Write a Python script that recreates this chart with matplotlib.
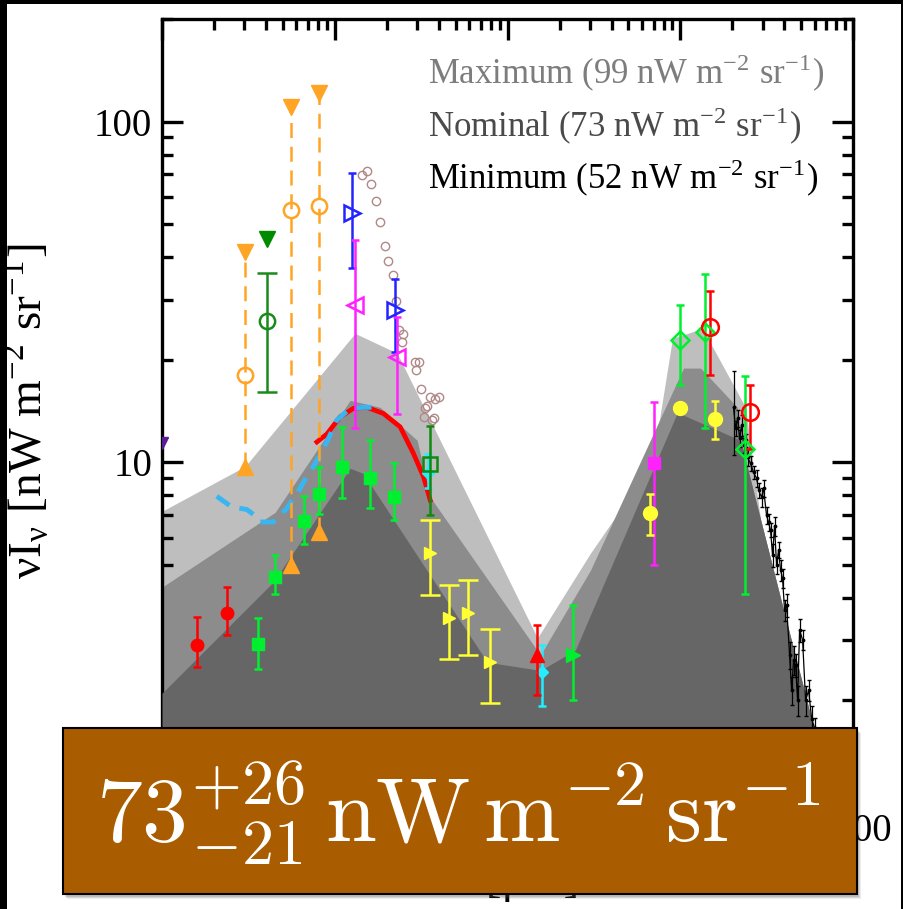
import numpy as np
import matplotlib.pyplot as plt
from matplotlib.patches import Rectangle
from matplotlib.ticker import LogLocator, FixedLocator, FixedFormatter, NullFormatter

plt.rcParams['font.family'] = ['Liberation Serif', 'DejaVu Serif']
plt.rcParams['mathtext.fontset'] = 'stix'

# ---- shaded model envelopes (wavelength [um], nuI_nu [nW m^-2 sr^-1])
max_lam = [0.1, 0.303, 1.31, 2.30, 14.9, 30.2, 69.0, 90.1, 134.5, 238.6, 262, 291.5, 380.7, 497, 591, 762, 1000]
max_val = [7.18, 9.73, 23.9, 20.9, 3.05, 5.41, 9.93, 23.1, 24.7, 14.5, 10.1, 6.80, 3.99, 2.36, 1.67, 1.0, 0.4]

nom_lam = [0.1, 0.452, 1.228, 1.83, 3.00, 3.57, 15.5, 30.2, 104.4, 131, 214, 223.4, 291.5, 380.7, 497, 591, 762, 1000]
nom_val = [4.30, 7.13, 15.2, 14.5, 11.6, 7.9, 2.72, 4.82, 18.9, 18.9, 14.5, 11.6, 6.80, 3.99, 2.36, 1.67, 1.0, 0.4]

min_lam = [0.1, 0.440, 1.228, 1.46, 7.64, 15.5, 24.7, 96.3, 223.4, 291.5, 380.7, 497, 591, 762, 1000]
min_val = [2.10, 4.45, 9.60, 9.28, 2.59, 2.45, 2.81, 14.0, 11.6, 6.80, 3.99, 2.36, 1.67, 1.0, 0.4]

# ---- measurements
red_lam = [0.160, 0.237]
red_val = [2.91, 3.60]
red_lo = [2.50, 3.11]
red_hi = [3.51, 4.31]

grn_lam = [0.361, 0.452, 0.668, 0.815, 1.10, 1.60, 2.19]
grn_val = [2.92, 4.61, 6.71, 8.06, 9.69, 9.02, 7.91]
grn_lo = [2.48, 4.12, 5.75, 7.04, 7.83, 7.36, 6.76]
grn_hi = [3.50, 5.36, 7.95, 9.69, 12.7, 11.6, 9.95]

org_lam = [0.303, 0.557, 0.815]
org_val = [18.0, 55.1, 56.7]
org_lo = [9.69, 4.99, 6.25]
org_hi = [41.4, 110, 121]

dgr_lim_lam = [0.404]
dgr_lim_val = [45.3]
dgr_lam = [0.404]
dgr_val = [25.9]
dgr_lo = [16.1]
dgr_hi = [35.9]
dgr_sq_lam = [3.57]
dgr_sq_val = [9.91]
dgr_sq_lo = [6.99]
dgr_sq_hi = [12.8]

blu_lam = [1.26, 2.24]
blu_val = [54.0, 27.9]
blu_lo = [37.2, 21.1]
blu_hi = [70.5, 34.4]

mag_lam = [1.31, 2.29]
mag_val = [28.9, 20.4]
mag_lo = [12.6, 13.9]
mag_hi = [45.0, 26.7]

mag_sq_lam = [70.9]
mag_sq_val = [9.95]
mag_sq_lo = [4.99]
mag_sq_hi = [15.0]

brn_lam = [1.436, 1.535, 1.625, 1.730, 1.832, 1.941, 2.031, 2.160, 2.259, 2.339, 2.50, 2.448,
           2.923, 3.055, 2.963, 3.167, 3.570, 3.817, 3.99, 3.417, 3.34, 3.266, 3.731, 3.653]
brn_val = [69.8, 71.5, 65.7, 58.4, 50.7, 43.1, 39.1, 35.4, 29.7, 24.4, 23.8, 22.5,
           19.7, 19.7, 18.6, 16.4, 15.5, 15.3, 15.5, 14.6, 14.4, 13.6, 13.5, 13.3]

redc_lam = [0.788, 0.900, 1.075, 1.283, 1.535, 1.915, 2.392, 2.858, 3.266, 3.57]
redc_val = [11.47, 12.1, 13.6, 14.4, 14.5, 13.9, 12.7, 10.6, 9.06, 7.74]

cyc_lam = [0.2074, 0.2534, 0.3095, 0.3538, 0.3697, 0.4414, 0.528, 0.603, 0.689, 0.788,
           0.900, 1.028, 1.228, 1.467, 1.832]
cyc_val = [7.95, 7.39, 7.27, 6.91, 6.68, 6.68, 7.32, 8.09, 9.06, 10.1,
           11.47, 13.3, 14.4, 14.5, 14.5]

yel_lam = [3.57, 4.56, 5.87, 7.95]
yel_val = [5.40, 3.48, 3.60, 2.60]
yel_lo = [4.07, 2.64, 2.72, 1.96]
yel_hi = [6.79, 4.36, 4.51, 3.25]

yelc_lam = [67.2, 99.3, 158.5]
yelc_val = [7.12, 14.4, 13.4]
yelc_lo = [6.11, 14.4, 11.7]
yelc_hi = [8.09, 14.4, 15.1]

redt_lam = [14.9]
redt_val = [2.72]
redt_lo = [2.07]
redt_hi = [3.33]

cyp_lam = [3.48, 15.85]
cyp_val = [9.3, 2.43]
cyp_lo = [8.4, 1.92]
cyp_hi = [10.6, 2.91]

grt_lam = [23.96]
grt_val = [2.72]
grt_lo = [2.00]
grt_hi = [3.81]

grd_lam = [99.3, 138.7, 236.4]
grd_val = [22.9, 24.1, 10.97]
grd_lo = [16.9, 12.6, 4.12]
grd_hi = [28.9, 35.8, 17.9]

redo_lam = [148.3, 252.7]
redo_val = [24.9, 14.0]
redo_lo = [18.0, 10.97]
redo_hi = [31.9, 16.9]

pur_lam = [0.1]
pur_val = [11.4]

fir_lam = [203.4, 208.9, 214.6, 220.4, 226.3, 232.5, 238.7, 245.2, 255.1, 265.5, 276.3, 283.8,
           295.4, 303.4, 315.8, 324.3, 333.1, 342.1, 351.4, 360.9, 370.6, 380.7, 391.0, 401.6,
           412.4, 429.3, 441.0, 452.9, 465.1, 477.7, 490.6, 510.6, 531.5, 553.2, 575.8, 599.3, 632.2]
fir_val = [14.50, 12.58, 13.46, 11.76, 12.84, 11.22, 11.60, 10.34, 9.93, 9.35, 8.98, 8.28,
           7.90, 8.39, 6.99, 6.67, 6.32, 5.34, 6.49, 4.99, 5.52, 4.82, 4.57, 3.68,
           3.81, 2.72, 2.14, 2.63, 2.54, 2.00, 3.22, 3.01, 2.00, 2.14, 1.77, 1.66, 1.34]
fir_err = [4.0, 0.6, 0.8, 0.7, 0.9, 0.6, 0.5, 0.6, 0.5, 0.4, 0.5, 0.4,
           0.5, 0.5, 0.4, 0.4, 0.3, 0.4, 0.4, 0.3, 0.3, 0.35, 0.3, 0.25,
           0.3, 0.25, 0.2, 0.25, 0.2, 0.2, 0.25, 0.2, 0.2, 0.15, 0.15, 0.12, 0.1]

legend_lines = ['Maximum (99 nW m$^\\mathregular{-2}$ sr$^\\mathregular{-1}$)',
                'Nominal (73 nW m$^\\mathregular{-2}$ sr$^\\mathregular{-1}$)',
                'Minimum (52 nW m$^\\mathregular{-2}$ sr$^\\mathregular{-1}$)']
legend_colors = ['#7d7d7d', '#4a4a4a', '#000000']

# only the rightmost x label and the upper y labels are not hidden under the box
xtick_vals = [0.1, 1, 10, 100, 1000]
xtick_text = ['', '', '', '', '1000']
ytick_vals = [1, 10, 100]
ytick_text = ['', '10', '100']


def yerr(val, lo, hi):
    v = np.array(val)
    return [v - np.array(lo), np.array(hi) - v]


fig = plt.figure(figsize=(9.04, 9.09), dpi=100)
ax = fig.add_axes([0.1792, 0.1166, 0.7644, 0.8625])
ax.set_xscale('log')
ax.set_yscale('log')
ax.set_xlim(0.1, 1000)
ax.set_ylim(1, 200)

ax.fill_between(max_lam, max_val, 0.3, color='#bebebe', lw=0, zorder=1)
ax.fill_between(nom_lam, nom_val, 0.3, color='#8c8c8c', lw=0, zorder=2)
ax.fill_between(min_lam, min_val, 0.3, color='#666666', lw=0, zorder=3)

# FIRAS-like spectrum
ax.errorbar(fir_lam, fir_val, yerr=fir_err, fmt='-', color='k', lw=0.9, elinewidth=0.9,
            capsize=1.5, marker='.', ms=3.5, zorder=6)

# curves
ax.plot(redc_lam, redc_val, color='#ff0000', lw=3.4, zorder=8)
ax.plot(cyc_lam, cyc_val, color='#38b6f2', lw=3.5, ls=(0, (3.2, 2.2)), zorder=9)

# orange ranges
ax.vlines(org_lam, org_lo, org_hi, colors='#ffa424', lw=1.8, linestyles=(0, (6, 3.5)), zorder=9)
ax.plot(org_lam, org_hi, 'v', color='#ffa424', ms=11, zorder=10)
ax.plot(org_lam, org_lo, '^', color='#ffa424', ms=11, zorder=10)
ax.plot(org_lam, org_val, 'o', mfc='none', mec='#ffa424', mew=1.8, ms=11, zorder=10)

ax.plot(pur_lam, pur_val, 'v', color='#5a1d9a', ms=8, zorder=10)

ax.errorbar(red_lam, red_val, yerr=yerr(red_val, red_lo, red_hi), fmt='o', color='#ff0000',
            ms=9, elinewidth=1.8, capsize=3, capthick=1.8, zorder=10)
ax.errorbar(grn_lam, grn_val, yerr=yerr(grn_val, grn_lo, grn_hi), fmt='s', color='#00f030',
            ms=8, elinewidth=1.8, capsize=3, capthick=1.8, zorder=10)

ax.plot(dgr_lim_lam, dgr_lim_val, 'v', color='#008a00', ms=11, zorder=10)
ax.errorbar(dgr_lam, dgr_val, yerr=yerr(dgr_val, dgr_lo, dgr_hi), fmt='o', color='#1a8a1a',
            mfc='none', mew=1.8, ms=11, elinewidth=1.8, capsize=7, capthick=1.8, zorder=10)

ax.errorbar(cyp_lam, cyp_val, yerr=yerr(cyp_val, cyp_lo, cyp_hi), fmt='D', color='#22eeff',
            ms=6, elinewidth=1.8, capsize=3, capthick=1.8, zorder=9)
ax.errorbar(dgr_sq_lam, dgr_sq_val, yerr=yerr(dgr_sq_val, dgr_sq_lo, dgr_sq_hi), fmt='s',
            color='#108a10', mfc='none', mew=1.8, ms=10, elinewidth=1.8, capsize=3,
            capthick=1.8, zorder=11)

ax.errorbar(blu_lam, blu_val, yerr=yerr(blu_val, blu_lo, blu_hi), fmt='>', color='#2424ff',
            mfc='none', mew=1.8, ms=11, elinewidth=1.8, capsize=3, capthick=1.8, zorder=10)
ax.errorbar(mag_lam, mag_val, yerr=yerr(mag_val, mag_lo, mag_hi), fmt='<', color='#ff22ff',
            mfc='none', mew=1.8, ms=11, elinewidth=1.8, capsize=3, capthick=1.8, zorder=10)
ax.errorbar(mag_sq_lam, mag_sq_val, yerr=yerr(mag_sq_val, mag_sq_lo, mag_sq_hi), fmt='s',
            color='#ff22ff', ms=8, elinewidth=1.8, capsize=3, capthick=1.8, zorder=10)

ax.plot(brn_lam, brn_val, 'o', mfc='none', mec='#b08888', mew=1.0, ms=6, zorder=9)

ax.errorbar(yel_lam, yel_val, yerr=yerr(yel_val, yel_lo, yel_hi), fmt='>', color='#ffff33',
            ms=9, elinewidth=1.8, capsize=7, capthick=1.8, zorder=10)
ax.errorbar(yelc_lam, yelc_val, yerr=yerr(yelc_val, yelc_lo, yelc_hi), fmt='o', color='#ffff33',
            ms=10, elinewidth=1.8, capsize=3, capthick=1.8, zorder=10)

ax.errorbar(redt_lam, redt_val, yerr=yerr(redt_val, redt_lo, redt_hi), fmt='^', color='#ff0000',
            ms=10, elinewidth=1.8, capsize=3, capthick=1.8, zorder=10)
ax.errorbar(grt_lam, grt_val, yerr=yerr(grt_val, grt_lo, grt_hi), fmt='>', color='#00f030',
            ms=10, elinewidth=1.8, capsize=3, capthick=1.8, zorder=10)
ax.errorbar(grd_lam, grd_val, yerr=yerr(grd_val, grd_lo, grd_hi), fmt='D', color='#00f030',
            mfc='none', mew=1.8, ms=9, elinewidth=1.8, capsize=3, capthick=1.8, zorder=10)
ax.errorbar(redo_lam, redo_val, yerr=yerr(redo_val, redo_lo, redo_hi), fmt='o', color='#ff0000',
            mfc='none', mew=1.8, ms=12, elinewidth=1.8, capsize=3, capthick=1.8, zorder=10)

# legend text
for i, (txt, col) in enumerate(zip(legend_lines, legend_colors)):
    ax.text(0.385, 0.918 - i * 0.067, txt, color=col, fontsize=25, ha='left', va='baseline',
            transform=ax.transAxes, zorder=12)

# axes styling
for s in ax.spines.values():
    s.set_linewidth(2.4)
ax.xaxis.set_major_locator(FixedLocator(xtick_vals))
ax.xaxis.set_major_formatter(FixedFormatter(xtick_text))
ax.xaxis.set_minor_locator(LogLocator(base=10, subs=range(2, 10), numticks=20))
ax.xaxis.set_minor_formatter(NullFormatter())
ax.yaxis.set_major_locator(FixedLocator(ytick_vals))
ax.yaxis.set_major_formatter(FixedFormatter(ytick_text))
ax.yaxis.set_minor_locator(LogLocator(base=10, subs=range(2, 10), numticks=20))
ax.yaxis.set_minor_formatter(NullFormatter())
ax.tick_params(which='both', direction='in', top=True, right=True, width=2.4, labelsize=28,
               pad=7)
ax.tick_params(which='major', length=15)
ax.tick_params(which='minor', length=8)

ax.set_ylabel('νI$_\\mathregular{ν}$ [nW m$^\\mathregular{-2}$ sr$^\\mathregular{-1}$]', fontsize=34)
ax.yaxis.set_label_coords(-0.158, 0.5)
ax.set_xlabel('λ [μm]', fontsize=34)
ax.xaxis.set_label_coords(0.511, -0.113)
ax.xaxis.label.set_va('baseline')

# black frame strips around the picture
fig.add_artist(Rectangle((0, 0), 7 / 904, 1, transform=fig.transFigure, color='k', lw=0, zorder=20))
fig.add_artist(Rectangle((0, 1 - 4 / 909), 1, 4 / 909, transform=fig.transFigure, color='k', lw=0, zorder=20))
fig.add_artist(Rectangle((1 - 3 / 904, 0), 3 / 904, 1, transform=fig.transFigure, color='k', lw=0, zorder=20))

# brown result box with soft shadow
bx, by, bw, bh = 0.0697, 0.0165, 0.8783, 0.1826
for k, a in enumerate([0.10, 0.14, 0.2]):
    off = (3 - k) / 904
    fig.add_artist(Rectangle((bx + off + 1 / 904, by - off - 2 / 909), bw, bh,
                             transform=fig.transFigure, color='#555555', alpha=a, lw=0, zorder=21))
fig.add_artist(Rectangle((bx, by), bw, bh, transform=fig.transFigure, facecolor='#aa5c00',
                         edgecolor='k', lw=1.5, zorder=22))
fig.text(0.507, 0.0737, r'$73^{+26}_{-21}\,\mathrm{nW\,m^{-2}\,sr^{-1}}$', color='white',
         fontsize=66, ha='center', va='baseline', math_fontfamily='cm', zorder=23)

fig.savefig('out.png', dpi=100)
